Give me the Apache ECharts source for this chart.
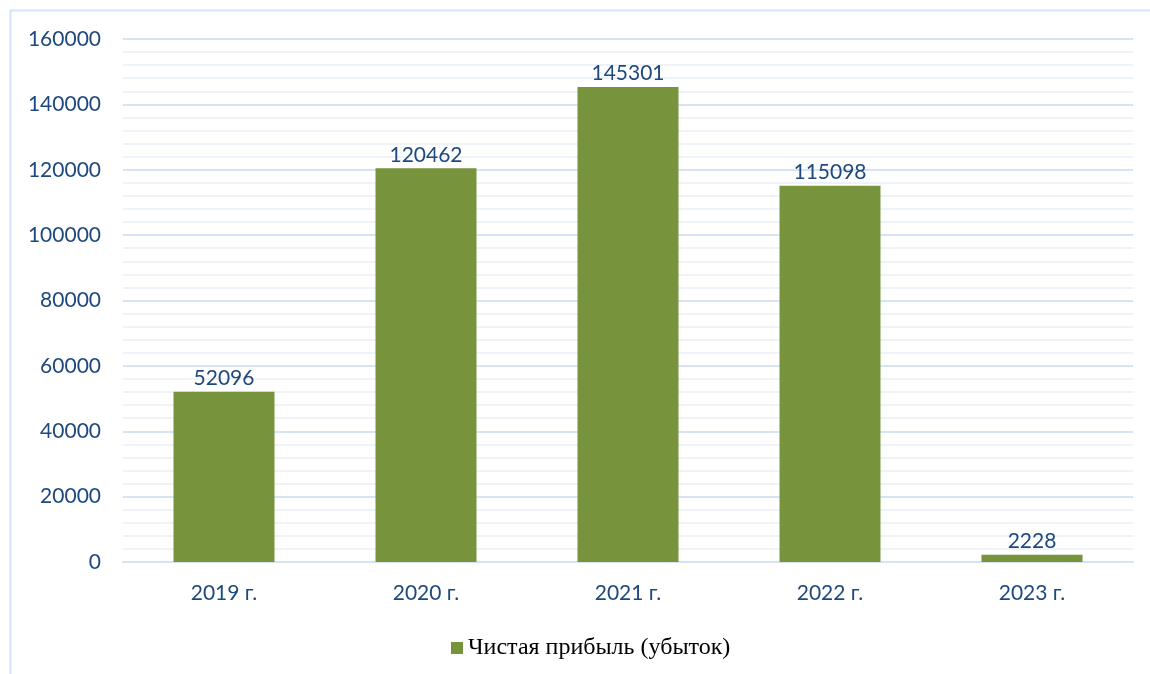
<!DOCTYPE html>
<html lang="ru">
<head>
    <meta charset="UTF-8">
    <script src="https://cdn.jsdelivr.net/npm/echarts@6/dist/echarts.min.js"></script>
    <title>Чистая прибыль</title>
    <style>
        html, body { margin: 0; padding: 0; background: #ffffff; }
        #chart { width: 1150px; height: 674px; }
    </style>
</head>
<body>
    <div id="chart"></div>
    <script>
        // данные с графика
        var years = ['2019 г.', '2020 г.', '2021 г.', '2022 г.', '2023 г.'];
        var profit = [52096, 120462, 145301, 115098, 2228];
        var seriesName = 'Чистая прибыль (убыток)';

        var textBlue = '#1F497D';
        var barColor = '#77933C';

        var chart = echarts.init(document.getElementById('chart'));

        chart.setOption({
            animation: false,
            graphic: [{
                type: 'rect',
                shape: { x: 10.5, y: 10.5, width: 1300, height: 900 },
                style: { fill: 'none', stroke: '#D6E3F5', lineWidth: 2 },
                silent: true
            }],
            grid: { left: 123, right: 17, top: 39, bottom: 112, containLabel: false },
            legend: {
                bottom: 9,
                left: 446,
                itemWidth: 12,
                itemHeight: 12,
                itemGap: 4,
                icon: 'rect',
                textStyle: { fontFamily: 'Liberation Serif', fontSize: 24, color: '#000000' }
            },
            xAxis: {
                type: 'category',
                data: years,
                axisLine: { lineStyle: { color: '#D6E3F5', width: 2 } },
                axisTick: { show: false },
                axisLabel: { color: textBlue, fontFamily: 'Lato', fontSize: 21, margin: 21 }
            },
            yAxis: {
                type: 'value',
                min: 0,
                max: 160000,
                interval: 20000,
                axisLine: { show: false },
                axisTick: { show: false },
                axisLabel: {
                    color: textBlue, fontFamily: 'Lato', fontSize: 21, margin: 22,
                    formatter: function (v) { return String(v); }
                },
                splitLine: { lineStyle: { color: '#D6E3F5', width: 2 } },
                minorTick: { show: false, splitNumber: 5 },
                minorSplitLine: { show: true, lineStyle: { color: '#EEF3FA', width: 2 } }
            },
            series: [{
                name: seriesName,
                type: 'bar',
                data: profit,
                barWidth: '50%',
                itemStyle: { color: barColor },
                label: {
                    show: true,
                    position: 'top',
                    distance: 3,
                    color: textBlue,
                    fontFamily: 'Lato',
                    fontSize: 21
                }
            }]
        });
    </script>
</body>
</html>
